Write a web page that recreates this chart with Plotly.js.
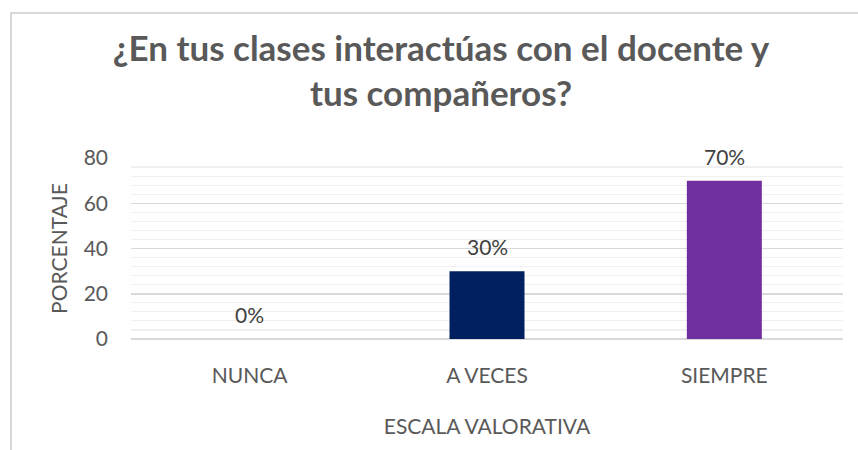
<!DOCTYPE html>
<html>
<head>
<meta charset="utf-8">
<script src="https://cdn.plot.ly/plotly-3.0.1.min.js"></script>
<style>
html,body{margin:0;padding:0;background:#fff;}
#wrap{position:relative;width:858px;height:450px;overflow:hidden;}
#chart{width:858px;height:450px;}
#frame{position:absolute;left:10px;top:12px;width:900px;height:500px;border-top:2px solid #d9d9d9;border-left:2px solid #d9d9d9;pointer-events:none;z-index:5;}
</style>
</head>
<body>
<div id="wrap"><div id="chart"></div><div id="frame"></div></div>
<script>
const categories = ["NUNCA", "A VECES", "SIEMPRE"];
const values = [0, 30, 70];
const labels = ["0%", "30%", "70%"];
const barColors = ["#002060", "#002060", "#7030A0"];
const yTicks = [0, 20, 40, 60, 80];

const FONT = "Lato, 'Open Sans', sans-serif";
const GREY = "#595959";

const trace = {
  type: "bar",
  x: categories,
  y: values,
  marker: {color: barColors},
  hoverinfo: "none",
  showlegend: false
};

const annotations = categories.map((c, i) => ({
  x: c, y: values[i], xref: "x", yref: "y",
  text: labels[i], showarrow: false,
  yanchor: "bottom", yshift: 10,
  font: {family: FONT, size: 21, color: "#404040"}
}));

const layout = {
  width: 858, height: 450,
  margin: {l: 131, r: 15, t: 158, b: 111},
  paper_bgcolor: "#ffffff", plot_bgcolor: "#ffffff",
  bargap: 0.684,
  title: {
    text: "<b>¿En tus clases interactúas con el docente y<br>tus compañeros?</b>",
    font: {family: FONT, size: 35, color: GREY},
    xref: "container", x: 0.514, xanchor: "center",
    yref: "container", y: 0.865, yanchor: "top"
  },
  xaxis: {
    type: "category",
    tickfont: {family: FONT, size: 21, color: GREY},
    showline: false, showgrid: false, ticks: "",
    ticklabelstandoff: 22,
    title: {text: "ESCALA VALORATIVA", font: {family: FONT, size: 21, color: GREY}, standoff: 33}
  },
  yaxis: {
    range: [0, 80],
    tickvals: yTicks,
    tickfont: {family: FONT, size: 21, color: GREY},
    gridcolor: "#d9d9d9", gridwidth: 1.5,
    zeroline: true, zerolinecolor: "#d9d9d9", zerolinewidth: 1.5,
    showline: false, ticks: "", ticklen: 0,
    ticklabelstandoff: 22,
    minor: {dtick: 4, showgrid: true, gridcolor: "#f0f0f0", gridwidth: 1.2},
    title: {text: "PORCENTAJE", font: {family: FONT, size: 21, color: GREY}, standoff: 10}
  },
  annotations: annotations
};

Plotly.newPlot("chart", [trace], layout, {staticPlot: true, displayModeBar: false});
</script>
</body>
</html>
